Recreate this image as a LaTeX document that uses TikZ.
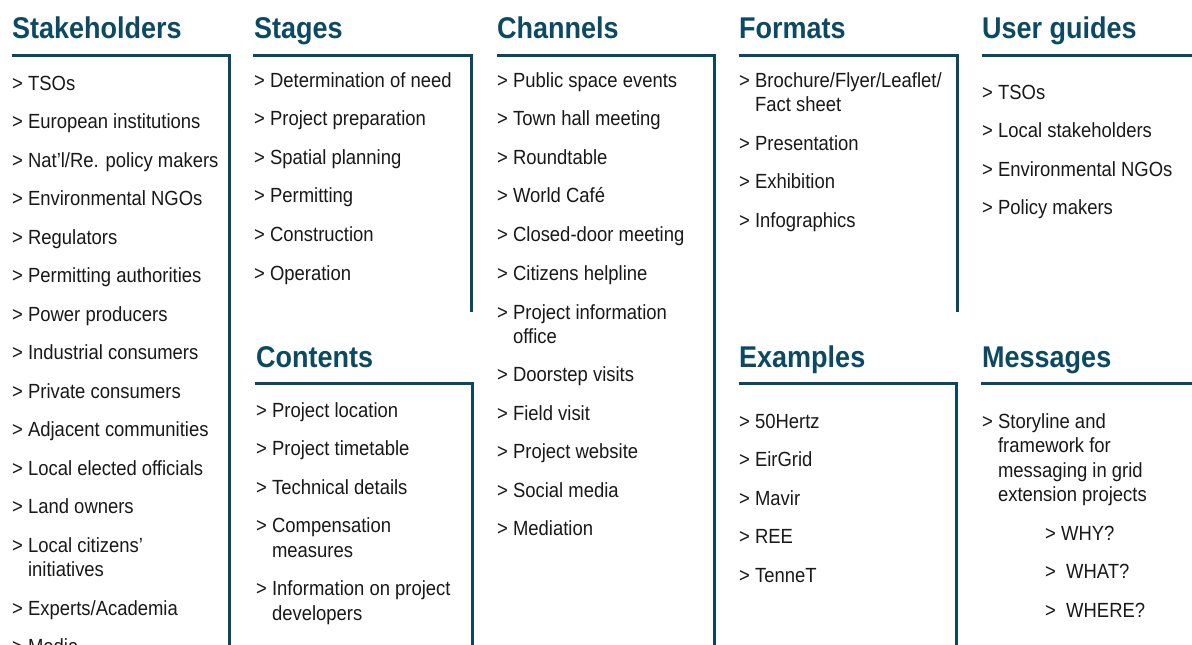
\documentclass[tikz,border=0pt]{standalone}
\usepackage{fontspec}
\setmainfont{Liberation Sans}[FakeStretch=0.9]
\definecolor{teal}{HTML}{0B4A62}
\definecolor{rule}{HTML}{0B4760}
\tikzset{
  head/.style={anchor=base west, inner sep=0pt, text=teal, font=\fontsize{30}{36}\selectfont\bfseries},
  body/.style={anchor=base west, inner sep=0pt, text=black!90, font=\fontsize{20.5}{24.5}\selectfont},
  frame/.style={draw=rule, line width=3pt, line cap=butt, line join=miter}
}
\newcommand\itm[4]{\node[body] (#1) at (#2,#3) {#4};}
\newcommand\ind{\phantom{> }}
\begin{document}
\begin{tikzpicture}[x=1pt,y=-1pt]
\useasboundingbox (0,0) rectangle (1192,645);
\clip (0,0) rectangle (1192,645);
\fill[white] (0,0) rectangle (1192,645);

% headings
\node[head] (hStake) at (12,38) {Stakeholders};
\node[head] (hStage) at (254,38) {Stages};
\node[head] (hChan) at (497,38) {Channels};
\node[head] (hForm) at (739,38) {Formats};
\node[head] (hUser) at (982,38) {User guides};
\node[head] (hCont) at (256,367) {Contents};
\node[head] (hExam) at (739,367) {Examples};
\node[head] (hMess) at (982,367) {Messages};

% frames
\coordinate (a1) at (12,55);  \coordinate (a2) at (229.5,55);  \coordinate (a3) at (229.5,646);
\coordinate (b1) at (253,55); \coordinate (b2) at (471.5,55);  \coordinate (b3) at (471.5,312);
\coordinate (c1) at (497,55); \coordinate (c2) at (714,55);    \coordinate (c3) at (714,646);
\coordinate (d1) at (739,55); \coordinate (d2) at (957,55);    \coordinate (d3) at (957,312);
\coordinate (e1) at (982,55); \coordinate (e2) at (1193,55);
\coordinate (f1) at (255,383); \coordinate (f2) at (472,383);  \coordinate (f3) at (472,646);
\coordinate (g1) at (739,383); \coordinate (g2) at (956,383);  \coordinate (g3) at (956,646);
\coordinate (h1) at (981,383); \coordinate (h2) at (1193,383);
\draw[frame] (a1) -- (a2) -- (a3);
\draw[frame] (b1) -- (b2) -- (b3);
\draw[frame] (c1) -- (c2) -- (c3);
\draw[frame] (d1) -- (d2) -- (d3);
\draw[frame] (e1) -- (e2);
\draw[frame] (f1) -- (f2) -- (f3);
\draw[frame] (g1) -- (g2) -- (g3);
\draw[frame] (h1) -- (h2);

% Stakeholders
\itm{s1}{12}{90}{> TSOs}
\itm{s2}{12}{128.5}{> European institutions}
\itm{s3}{12}{167}{> Nat’l/Re. policy makers}
\itm{s4}{12}{205.5}{> Environmental NGOs}
\itm{s5}{12}{244}{> Regulators}
\itm{s6}{12}{282.5}{> Permitting authorities}
\itm{s7}{12}{321}{> Power producers}
\itm{s8}{12}{359.5}{> Industrial consumers}
\itm{s9}{12}{398}{> Private consumers}
\itm{s10}{12}{436.5}{> Adjacent communities}
\itm{s11}{12}{475}{> Local elected officials}
\itm{s12}{12}{513.5}{> Land owners}
\itm{s13}{12}{552}{> Local citizens’}
\itm{s13b}{12}{576.5}{\ind initiatives}
\itm{s14}{12}{615}{> Experts/Academia}
\itm{s15}{12}{653.5}{> Media}

% Stages
\itm{t1}{254}{87}{> Determination of need}
\itm{t2}{254}{125.5}{> Project preparation}
\itm{t3}{254}{164}{> Spatial planning}
\itm{t4}{254}{202.5}{> Permitting}
\itm{t5}{254}{241.5}{> Construction}
\itm{t6}{254}{280}{> Operation}

% Channels
\itm{c1}{497}{87}{> Public space events}
\itm{c2}{497}{125.5}{> Town hall meeting}
\itm{c3}{497}{164}{> Roundtable}
\itm{c4}{497}{202.5}{> World Café}
\itm{c5}{497}{241.5}{> Closed-door meeting}
\itm{c6}{497}{280}{> Citizens helpline}
\itm{c7}{497}{319}{> Project information}
\itm{c7b}{497}{343.5}{\ind office}
\itm{c8}{497}{381.5}{> Doorstep visits}
\itm{c9}{497}{420}{> Field visit}
\itm{c10}{497}{458.5}{> Project website}
\itm{c11}{497}{497}{> Social media}
\itm{c12}{497}{535.5}{> Mediation}

% Formats
\itm{f1}{739}{87}{> Brochure/Flyer/Leaflet/}
\itm{f1b}{739}{111.5}{\ind Fact sheet}
\itm{f2}{739}{150}{> Presentation}
\itm{f3}{739}{188.5}{> Exhibition}
\itm{f4}{739}{227}{> Infographics}

% User guides
\itm{u1}{982}{99}{> TSOs}
\itm{u2}{982}{137.5}{> Local stakeholders}
\itm{u3}{982}{176}{> Environmental NGOs}
\itm{u4}{982}{214.5}{> Policy makers}

% Contents
\itm{k1}{256}{417}{> Project location}
\itm{k2}{256}{455.5}{> Project timetable}
\itm{k3}{256}{494}{> Technical details}
\itm{k4}{256}{532.5}{> Compensation}
\itm{k4b}{256}{557}{\ind measures}
\itm{k5}{256}{595.5}{> Information on project}
\itm{k5b}{256}{620}{\ind developers}

% Examples
\itm{x1}{739}{428}{> 50Hertz}
\itm{x2}{739}{466.5}{> EirGrid}
\itm{x3}{739}{505}{> Mavir}
\itm{x4}{739}{543.5}{> REE}
\itm{x5}{739}{582}{> TenneT}

% Messages
\itm{m1}{982}{428}{> Storyline and}
\itm{m1b}{982}{452.5}{\ind framework for}
\itm{m1c}{982}{477}{\ind messaging in grid}
\itm{m1d}{982}{501.5}{\ind extension projects}
\itm{m2}{1045}{540}{> WHY?}
\itm{m3}{1045}{578.5}{>\ \ WHAT?}
\itm{m4}{1045}{617}{>\ \ WHERE?}
\end{tikzpicture}
\end{document}
